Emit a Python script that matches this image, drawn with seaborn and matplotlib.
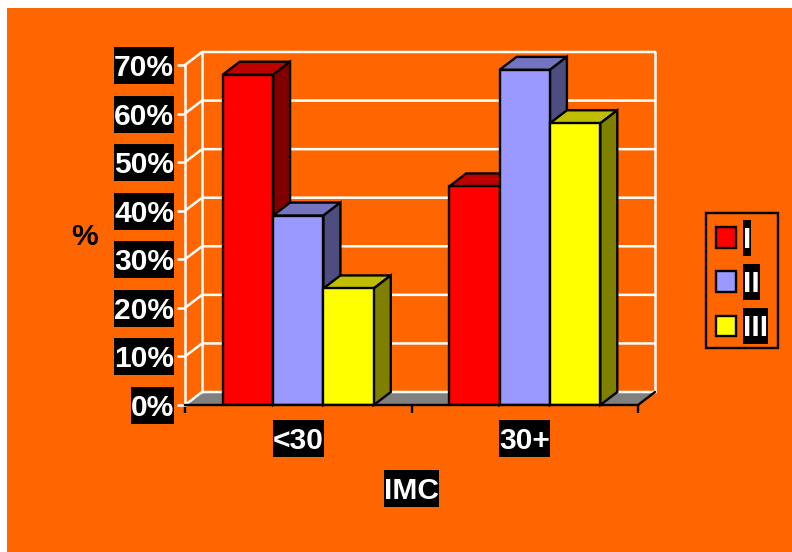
import matplotlib
matplotlib.use("Agg")
import matplotlib.pyplot as plt
import pandas as pd
import seaborn as sns
from matplotlib.patches import Patch, Polygon, Rectangle
from matplotlib.path import Path

# Share of patients (%) per IMC class and group
imc_classes = ["<30", "30+"]
group_names = ["I", "II", "III"]
group_i = [68, 45]
group_ii = [39, 69]
group_iii = [24, 58]
group_colors = ["#FF0000", "#9999FF", "#FFFF00"]
percent_ticks = [0, 10, 20, 30, 40, 50, 60, 70]

ORANGE = "#FF6600"
FONT = "Liberation Sans"
TEXT_SIZE = 21.6
EDGE = 1.7
WALL = 1.8
W, H = 792, 552

rows = []
for name, values in zip(group_names, [group_i, group_ii, group_iii]):
    for cls, val in zip(imc_classes, values):
        rows.append({"IMC": cls, "pct": val, "grupo": name})
df = pd.DataFrame(rows)

sns.set_theme(style="white")
plt.rcParams["font.family"] = [FONT, "DejaVu Sans"]
plt.rcParams["font.weight"] = "bold"

fig = plt.figure(figsize=(W / 100, H / 100), dpi=100, facecolor="white")
fig.patches.append(Rectangle((7 / W, 0), 1 - 7 / W, 1 - 8 / H, transform=fig.transFigure,
                             facecolor=ORANGE, edgecolor="none", zorder=-10))
# Legend panel
fig.patches.append(Rectangle((706 / W, 1 - 348 / H), 72 / W, 135 / H, transform=fig.transFigure,
                             facecolor=ORANGE, edgecolor="black", linewidth=EDGE, zorder=-9))

ax = fig.add_axes([185 / W, 1 - 405 / H, 453 / W, 340 / H])
ax.set_facecolor("none")

sns.barplot(data=df, x="IMC", y="pct", hue="grupo", hue_order=group_names,
            order=imc_classes, palette=group_colors, saturation=1, width=0.667,
            gap=0, edgecolor="black", linewidth=EDGE, legend=False, ax=ax)
bars = sorted(ax.patches, key=lambda p: p.get_x())
ax.set_xlim(-0.5, 1.5)
ax.set_ylim(0, 70)

# Oblique depth of the pseudo-3D box, in data units
depth_x = 17 / 226.5
depth_y = 13 / 340 * 70


def label_plate(above, below):
    """Black label plate: flush at the sides, extended above and below the text."""
    def box(x0, y0, width, height, mutation_scale):
        x1, y1 = x0 + width, y0 + height
        return Path([(x0, y0 - below), (x1, y0 - below), (x1, y1 + above),
                     (x0, y1 + above), (x0, y0 - below)], closed=True)
    return dict(boxstyle=box, facecolor="black", edgecolor="none")


plate = label_plate(7, 2)
legend_plate = label_plate(6, 2)

# Floor and back wall
x_left, x_right = -0.5, 1.5
ax.add_patch(Polygon([(x_left, 0), (x_right, 0), (x_right + depth_x, depth_y),
                      (x_left + depth_x, depth_y)], closed=True, facecolor="#808080",
                     edgecolor="none", clip_on=False, zorder=1))
for tick in percent_ticks:
    ax.plot([x_left, x_left + depth_x, x_right + depth_x],
            [tick, tick + depth_y, tick + depth_y], color="white", lw=WALL,
            clip_on=False, zorder=1.5, solid_joinstyle="miter")
for wall_x in (x_left + depth_x, x_right + depth_x):
    ax.plot([wall_x, wall_x], [depth_y, 70 + depth_y], color="white", lw=WALL,
            clip_on=False, zorder=1.5)
ax.plot([x_right, x_right + depth_x], [0, depth_y], color="black", lw=EDGE,
        clip_on=False, zorder=1.6)

# Top and side faces for each bar, stacked left to right
for i, bar in enumerate(bars):
    layer = 3 + i
    x0, x1, top = bar.get_x(), bar.get_x() + bar.get_width(), bar.get_height()
    rgb = bar.get_facecolor()[:3]
    ax.add_patch(Polygon([(x0, top), (x1, top), (x1 + depth_x, top + depth_y),
                          (x0 + depth_x, top + depth_y)], closed=True,
                         facecolor=[c * 0.75 for c in rgb], edgecolor="black",
                         lw=EDGE, clip_on=False, zorder=layer, joinstyle="miter"))
    ax.add_patch(Polygon([(x1, 0), (x1 + depth_x, depth_y), (x1 + depth_x, top + depth_y),
                          (x1, top)], closed=True, facecolor=[c * 0.5 for c in rgb],
                         edgecolor="black", lw=EDGE, clip_on=False, zorder=layer,
                         joinstyle="miter"))
    bar.set_zorder(layer + 0.5)
    bar.set_joinstyle("miter")

# Axes lines and ticks
for side in ("top", "right"):
    ax.spines[side].set_visible(False)
ax.spines["left"].set_color("white")
ax.spines["left"].set_linewidth(WALL)
ax.spines["left"].set_zorder(2)
ax.spines["bottom"].set_color("black")
ax.spines["bottom"].set_linewidth(EDGE)
ax.spines["bottom"].set_zorder(30)

ax.set_yticks(percent_ticks)
ax.set_yticklabels([f"{t}%" for t in percent_ticks])
ax.tick_params(axis="y", length=5.76, width=WALL, color="white", pad=2, left=True,
               labelsize=TEXT_SIZE, labelcolor="white")
ax.set_xticks([0, 1])
ax.set_xticklabels(imc_classes)
ax.set_xticks([-0.5, 0.5, 1.5], minor=True)
ax.tick_params(axis="x", which="major", length=0, pad=16, labelsize=TEXT_SIZE,
               labelcolor="white")
ax.tick_params(axis="x", which="minor", length=5.76, width=EDGE, color="black", bottom=True)
for label in ax.get_yticklabels() + ax.get_xticklabels():
    label.set_fontweight("bold")
    label.set_bbox(plate)

ax.set_xlabel("")
ax.set_ylabel("")
fig.text(411 / W, 1 - 491 / H, "IMC", color="white", fontsize=TEXT_SIZE, fontweight="bold",
         ha="center", va="center", bbox=plate)
fig.text(85 / W, 1 - 237 / H, "%", color="black", fontsize=TEXT_SIZE, fontweight="bold",
         ha="center", va="center")

# Legend
handles = [Patch(facecolor=c, edgecolor="black", linewidth=EDGE, label=n)
           for c, n in zip(group_colors, group_names)]
legend = ax.legend(handles=handles, loc="upper left",
                   bbox_to_anchor=(716 / W, 1 - 226 / H), bbox_transform=fig.transFigure,
                   borderaxespad=0, borderpad=0, frameon=False,
                   handlelength=0.667, handleheight=0.667, handletextpad=0.23,
                   labelspacing=0.54,
                   prop={"family": FONT, "weight": "bold", "size": TEXT_SIZE})
legend.set_zorder(40)
for text in legend.get_texts():
    text.set_color("white")
    text.set_bbox(legend_plate)

fig.savefig("out.png", dpi=100, facecolor=fig.get_facecolor())
